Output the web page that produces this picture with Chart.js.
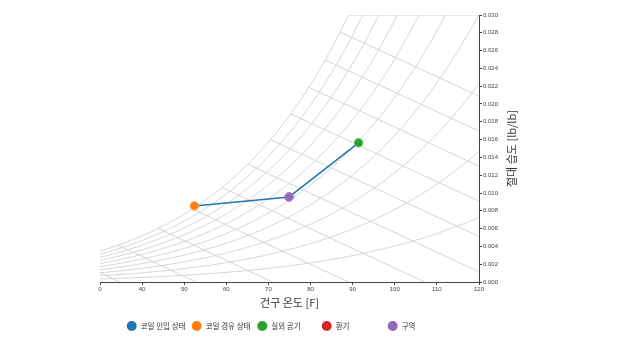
<!DOCTYPE html>
<html><head><meta charset="utf-8">
<script src="https://cdn.jsdelivr.net/npm/chart.js@4/dist/chart.umd.min.js"></script>
<style>html,body{margin:0;padding:0;background:#fff}canvas{display:block}</style>
</head><body>
<canvas id="c" width="622" height="350"></canvas>
<script>
// ---- data ----
const seriesNames  = ['코일 인입 상태', '코일 경유 상태', '실외 공기', '환기', '구역'];
const seriesColors = ['#1f77b4', '#ff7f0e', '#2ca02c', '#d62728', '#9467bd'];
// process line (coil leaving -> zone -> outdoor)
const processT = [52.4, 74.9, 91.4];
const processW = [0.00855, 0.00956, 0.01564];
const coilLeaveT = [52.4],  coilLeaveW = [0.00855];
const outdoorT   = [91.4],  outdoorW   = [0.01564];
const returnT    = [74.9],  returnW    = [0.00956];
const zoneT      = [74.9],  zoneW      = [0.00956];
// chart background families
const rhLevels = [0.1, 0.2, 0.3, 0.4, 0.5, 0.6, 0.7, 0.8, 0.9, 1.0];
const enthalpyLevels = [8.33, 12.67, 17.02, 21.36, 25.70, 30.05, 34.39, 38.74, 43.08, 47.42, 51.77];
const xTickValues = [30, 40, 50, 60, 70, 80, 90, 100, 110, 120];
const xTickLabels = ['0', '40', '50', '60', '70', '80', '90', '100', '110', '120'];
const yTickValues = [0, 0.002, 0.004, 0.006, 0.008, 0.010, 0.012, 0.014, 0.016, 0.018, 0.020, 0.022, 0.024, 0.026, 0.028, 0.030];
const xTitle = '건구 온도 [F]';
const yTitle = '절대 습도 [lb/lb]';

// ---- psychrometrics ----
const P = 101.325;
function psat(T){ const t = (T - 32) / 1.8; return 0.61094 * Math.exp(17.625 * t / (t + 243.04)); }
function wRH(T, phi){ const p = phi * psat(T); return 0.622 * p / (P - p); }
function hOf(T, w){ return 0.24 * T + w * (1061 + 0.444 * T); }
function satTforH(h){ let a = -40, b = 140; for (let i = 0; i < 60; i++){ const m = (a + b) / 2; if (hOf(m, wRH(m, 1)) > h) b = m; else a = m; } return (a + b) / 2; }
function satTforW(w){ let a = -40, b = 140; for (let i = 0; i < 60; i++){ const m = (a + b) / 2; if (wRH(m, 1) > w) b = m; else a = m; } return (a + b) / 2; }

const X0 = 30, X1 = 120, Y1 = 0.030;
const gridColor = '#d4d4d4';
const datasets = [];
const pts = (T, W) => T.map((t, i) => ({x: t, y: W[i]}));

// series
datasets.push({label: seriesNames[0], data: pts(processT, processW), showLine: true, borderColor: seriesColors[0], backgroundColor: seriesColors[0], borderWidth: 1.5, pointRadius: 0, order: 5});
datasets.push({label: seriesNames[1], data: pts(coilLeaveT, coilLeaveW), borderColor: '#ffa04d', backgroundColor: seriesColors[1], borderWidth: 1, pointRadius: 4.2, order: 1});
datasets.push({label: seriesNames[2], data: pts(outdoorT, outdoorW), borderColor: '#4fbf4f', backgroundColor: seriesColors[2], borderWidth: 1, pointRadius: 4.2, order: 1});
datasets.push({label: seriesNames[3], data: pts(returnT, returnW), borderColor: seriesColors[3], backgroundColor: seriesColors[3], borderWidth: 1, pointRadius: 4.2, order: 2});
datasets.push({label: seriesNames[4], data: pts(zoneT, zoneW), borderColor: '#a98bd0', backgroundColor: seriesColors[4], borderWidth: 1, pointRadius: 4.2, order: 0});

// relative humidity curves
rhLevels.forEach(phi => {
  const d = [];
  for (let T = X0; T <= X1 + 0.001; T += 0.5){
    const w = wRH(T, phi);
    d.push({x: T, y: w});
    if (w > Y1) break;
  }
  datasets.push({label: 'rh', data: d, showLine: true, borderColor: gridColor, borderWidth: 1, pointRadius: 0, order: 20, grid: true});
});
// enthalpy lines
enthalpyLevels.forEach(h => {
  const Ts = satTforH(h), ws = wRH(Ts, 1);
  if (ws > Y1) return;
  const T0 = h / 0.24;
  datasets.push({label: 'h', data: [{x: Ts, y: ws}, {x: T0, y: 0}], showLine: true, borderColor: gridColor, borderWidth: 1, pointRadius: 0, order: 20, grid: true});
});
// top boundary
datasets.push({label: 'top', data: [{x: satTforW(Y1), y: Y1}, {x: X1, y: Y1}], showLine: true, borderColor: gridColor, borderWidth: 1, pointRadius: 0, order: 20, grid: true});

const FONT = "'Liberation Sans', 'Noto Sans CJK KR', sans-serif";
const KFONT = "'Noto Sans CJK KR', 'Liberation Sans', sans-serif";

const overlay = {
  id: 'overlay',
  afterDraw(chart){
    const ctx = chart.ctx, a = chart.chartArea;
    ctx.save();
    ctx.fillStyle = '#333';
    ctx.font = '11px ' + KFONT;
    ctx.textAlign = 'center'; ctx.textBaseline = 'middle';
    ctx.fillText(xTitle, (a.left + a.right) / 2, 303);
    ctx.translate(512, (a.top + a.bottom) / 2);
    ctx.rotate(-Math.PI / 2);
    ctx.fillText(yTitle, 0, 0);
    ctx.restore();
    // legend
    ctx.save();
    const lx = [131.7, 196.7, 262.3, 326.7, 392.7], ly = 326;
    ctx.font = '7.5px ' + KFONT;
    ctx.textAlign = 'left'; ctx.textBaseline = 'middle';
    seriesNames.forEach((n, i) => {
      ctx.beginPath(); ctx.arc(lx[i], ly, 5, 0, Math.PI * 2);
      ctx.fillStyle = seriesColors[i]; ctx.fill();
      ctx.fillStyle = '#333';
      ctx.fillText(n, lx[i] + 9, ly);
    });
    ctx.restore();
  }
};

new Chart(document.getElementById('c'), {
  type: 'scatter',
  data: {datasets},
  options: {
    responsive: false, animation: false,
    layout: {padding: {left: 100, top: 15, right: 0, bottom: 0}},
    plugins: {legend: {display: false}, tooltip: {enabled: false}},
    scales: {
      x: {
        type: 'linear', position: 'bottom', min: X0, max: X1,
        afterBuildTicks: s => { s.ticks = xTickValues.map(v => ({value: v})); },
        afterFit: s => { s.height = 68; },
        ticks: {font: {size: 6, family: FONT}, color: '#444', padding: 1, maxRotation: 0,
                callback: (v) => xTickLabels[xTickValues.indexOf(v)]},
        grid: {drawOnChartArea: false, drawTicks: true, tickLength: 3, color: '#444'},
        border: {display: true, color: '#444', width: 1}
      },
      y: {
        type: 'linear', position: 'right', min: 0, max: Y1,
        afterBuildTicks: s => { s.ticks = yTickValues.map(v => ({value: v})); },
        afterFit: s => { s.width = 143; },
        ticks: {font: {size: 6, family: FONT}, color: '#444', padding: 1,
                callback: (v) => Number(v).toFixed(3)},
        grid: {drawOnChartArea: false, drawTicks: true, tickLength: 3, color: '#444'},
        border: {display: true, color: '#444', width: 1}
      }
    }
  },
  plugins: [overlay]
});
</script>
</body></html>
